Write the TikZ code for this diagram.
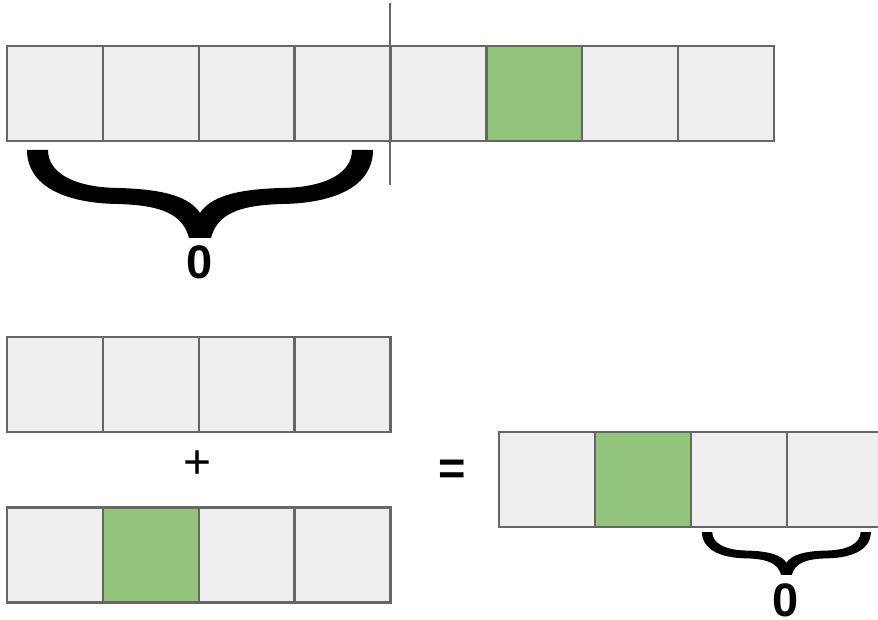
\documentclass[tikz,border=0pt]{standalone}
\usepackage{fontspec}
\setmainfont{Liberation Sans}
\definecolor{cellgray}{HTML}{EEEEEE}
\definecolor{boxline}{HTML}{666666}
\definecolor{cellgreen}{HTML}{93C47D}
\tikzset{
  cell/.style={draw=boxline, line width=2.6pt, fill=cellgray, minimum width=95.8pt, minimum height=95pt, inner sep=0pt, outer sep=0pt},
  gcell/.style={cell, fill=cellgreen},
  biglabel/.style={font=\bfseries\fontsize{47}{47}\selectfont, inner sep=0pt},
  oplabel/.style={font=\fontsize{48}{48}\selectfont, inner sep=0pt},
  bracefill/.style={fill=black, draw=none},
  pics/curlybrace/.style={code={
    \path[bracefill] (0,0) -- (21,0)
      .. controls (21,22) and (45,37) .. (90,38)
      .. controls (140,39) and (163,48) .. (173,63)
      .. controls (183,48) and (206,39) .. (256,38)
      .. controls (301,37) and (325,22) .. (325,0)
      -- (346,0)
      .. controls (346,35) and (310,53) .. (256,54)
      .. controls (210,55) and (190,65) .. (184,88)
      -- (162,88)
      .. controls (156,65) and (136,55) .. (90,54)
      .. controls (36,53) and (0,35) .. (0,0) -- cycle;
  }}
}
\begin{document}
\begin{tikzpicture}[x=1pt, y=-1pt]
\useasboundingbox (0,0) rectangle (878,620);
% top row
\node[cell]  (t1) at (55,93.5) {};
\node[cell]  (t2) at (151,93.5) {};
\node[cell]  (t3) at (247,93.5) {};
\node[cell]  (t4) at (342.5,93.5) {};
\node[cell]  (t5) at (438.5,93.5) {};
\node[gcell] (t6) at (534.5,93.5) {};
\node[cell]  (t7) at (630,93.5) {};
\node[cell]  (t8) at (726,93.5) {};
\coordinate (vtop) at (390,3);
\coordinate (vbot) at (390,185);
\draw[boxline, line width=1.8pt] (vtop) -- (vbot);
\pic at (27,150) {curlybrace};
\node[biglabel] (z1) at (199.5,262) {0};
% middle rows
\node[cell]  (a1) at (55,384.5) {};
\node[cell]  (a2) at (151,384.5) {};
\node[cell]  (a3) at (247,384.5) {};
\node[cell]  (a4) at (342.5,384.5) {};
\node[oplabel] (plus) at (198,465) {+};
\node[cell]  (b1) at (55,555) {};
\node[gcell] (b2) at (151,555) {};
\node[cell]  (b3) at (247,555) {};
\node[cell]  (b4) at (342.5,555) {};
\node[biglabel] (eq) at (452,472) {=};
% result row
\node[cell]  (r1) at (547,479.5) {};
\node[gcell] (r2) at (643,479.5) {};
\node[cell]  (r3) at (739,479.5) {};
\node[cell]  (r4) at (835,479.5) {};
\pic[scale=0.488] at (702,532) {curlybrace};
\node[biglabel] (z2) at (785.5,600) {0};
\end{tikzpicture}
\end{document}
